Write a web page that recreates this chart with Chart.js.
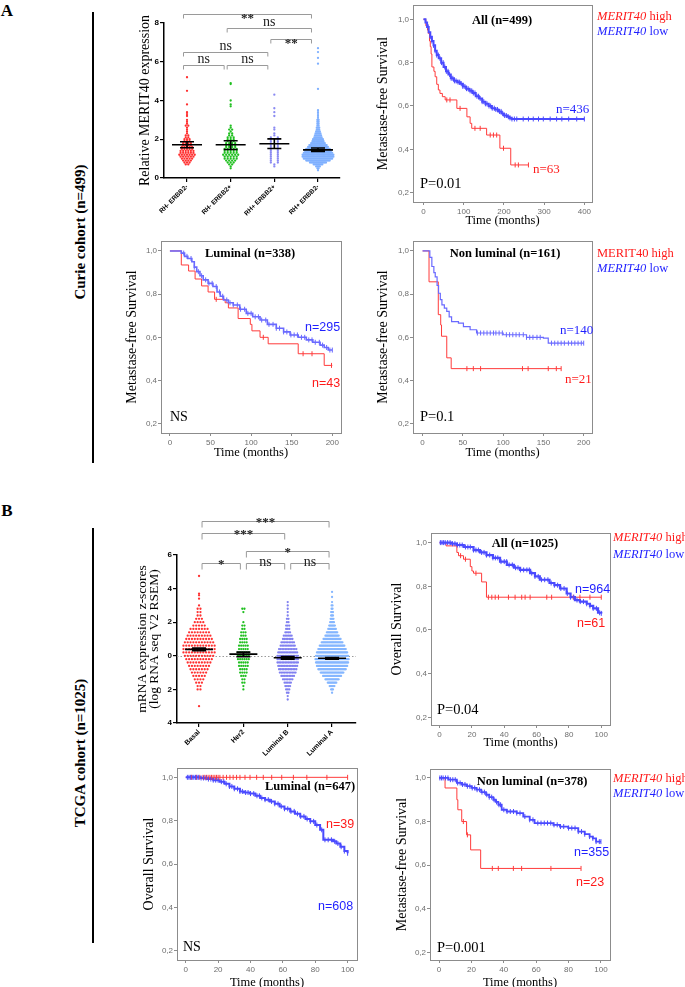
<!DOCTYPE html>
<html>
<head>
<meta charset="utf-8">
<script src="https://cdn.jsdelivr.net/npm/chart.js@4.4.1/dist/chart.umd.min.js"></script>
<style>
html,body{margin:0;padding:0;background:#fff;}
body{width:685px;height:987px;position:relative;overflow:hidden;}
canvas{position:absolute;}
.t{position:absolute;white-space:nowrap;line-height:1;font-family:"Liberation Serif","Times New Roman",serif;color:#000;}
.c{transform:translate(-50%,-50%);}
.l{transform:translate(0,-50%);}
.v{transform:translate(-50%,-50%) rotate(-90deg);}
.vline{position:absolute;background:#000;width:2.5px;}
</style>
</head>
<body>
<script>
/* ================= DATA ================= */
// ---- Panel A, Curie cohort: relative MERIT40 expression (histogram rows)
const curieCategories = ['RH- ERBB2-', 'RH- ERBB2+', 'RH+ ERBB2+', 'RH+ ERBB2-'];
const curieYTicks = [0, 2, 4, 6, 8];
const curieBinStart = 0.4;
const curieBinStep = 0.1;
const curieCountsRnEn = [0,0,0,2,3,4,5,6,7,6,6,5,5,4,4,3,3,2,2,1,1,1,1,2,1,1,1];
const curieCountsRnEp = [0,1,1,2,3,4,5,5,6,5,5,5,4,4,4,3,3,3,2,2,1,2,1,1,0,0,0];
const curieCountsRpEp = [0,0,1,1,2,2,2,2,2,2,2,2,2,2,2,2,2,2,1,1,0,1,1,0,0,0,0];
const curieCountsRpEn = [1,2,4,8,14,20,24,26,26,24,22,20,17,15,12,10,9,7,6,5,4,3,3,2,2,2,2];
const curieHighRnEn = [3.2,3.3,3.4,3.8,4.5,5.2];
const curieHighRnEp = [3.7,3.8,4.0,4.85,4.9];
const curieHighRpEp = [3.2,3.4,3.6,4.3];
const curieHighRpEn = [3.1,3.2,3.3,3.4,3.5,4.6,5.9,6.2,6.5,6.7];
const curieMeans = [1.72, 1.72, 1.77, 1.45];
const curieSemLow = [1.56, 1.47, 1.52, 1.37];
const curieSemHigh = [1.87, 1.92, 2.02, 1.55];
const curieSig = [[0,3,'**'],[1,3,'ns'],[2,3,'**'],[0,2,'ns'],[0,1,'ns'],[1,2,'ns']];

// ---- Panel B, TCGA cohort: mRNA z-scores
const tcgaCategories = ['Basal', 'Her2', 'Luminal B', 'Luminal A'];
const tcgaYTicks = [-4, -2, 0, 2, 4, 6];
const tcgaBinStart = -2.2;
const tcgaBinStep = 0.2;
const tcgaCountsBasal = [0,2,2,3,4,5,6,7,8,9,10,11,12,12,12,11,10,9,8,7,5,4,3,2,2,2,1];
const tcgaCountsHer2  = [0,1,1,2,2,3,4,4,5,5,6,6,6,5,5,4,4,3,3,2,2,1,0,0,1,2,0];
const tcgaCountsLumB  = [2,3,4,5,7,9,11,12,13,14,14,14,13,12,10,9,7,6,4,3,3,2,2,1,1,1,1];
const tcgaCountsLumA  = [1,3,6,10,15,20,25,30,33,35,36,35,33,30,27,23,19,15,12,9,7,5,4,3,3,2,2];
const tcgaExtraBasal = [-3.0, 3.4, 3.6, 3.7, 4.75];
const tcgaExtraHer2 = [];
const tcgaExtraLumB = [-2.6, -2.4, 3.2];
const tcgaExtraLumA = [3.2, 3.5, 3.8];
const tcgaMeans = [0.38, 0.10, -0.12, -0.15];
const tcgaSemLow = [0.30, -0.05, -0.20, -0.20];
const tcgaSemHigh = [0.46, 0.22, -0.04, -0.10];
const tcgaSig = [[0,3,'***'],[0,2,'***'],[1,3,'*'],[0,1,'*'],[1,2,'ns'],[2,3,'ns']];

// ---- Kaplan-Meier curves: [time (months), survival]
const survTicks = [0.2, 0.4, 0.6, 0.8, 1.0];
const timeTicksCurie400 = [0, 100, 200, 300, 400];
const timeTicksCurie200 = [0, 50, 100, 150, 200];
const timeTicksTcga = [0, 20, 40, 60, 80, 100];

const curieAllLow = [[0,1],[5,0.985],[9,0.965],[13,0.94],[17,0.92],[21,0.9],[25,0.88],[29,0.855],[33,0.835],[38,0.82],[44,0.8],[50,0.78],[56,0.76],[62,0.745],[68,0.728],[76,0.716],[84,0.71],[91,0.703],[98,0.69],[106,0.68],[114,0.67],[122,0.66],[130,0.645],[138,0.635],[146,0.62],[154,0.61],[162,0.6],[170,0.59],[178,0.584],[186,0.575],[194,0.565],[200,0.556],[208,0.55],[214,0.545],[219,0.54],[400,0.54]];
const curieAllLowCens = [12,17,21,25,29,33,37,41,45,49,53,57,61,65,69,73,77,81,86,90,94,98,103,107,111,116,120,124,128,133,137,141,146,150,154,158,163,167,171,176,180,184,189,193,197,202,206,211,215,220,226,232,248,261,273,286,298,315,331,344,361,381,400];
const curieAllHigh = [[0,1],[4,1],[6,0.97],[10,0.95],[12,0.935],[15,0.9],[17,0.874],[19,0.84],[21,0.78],[26,0.76],[29,0.735],[33,0.7],[37,0.674],[41,0.658],[47,0.643],[54,0.628],[83,0.589],[108,0.55],[116,0.52],[120,0.497],[157,0.466],[190,0.405],[217,0.328],[261,0.328]];
const curieAllHighCens = [58,66,91,128,141,166,174,182,199,228,236,261];

const curieLumLow = [[0,1],[12,1],[14,0.99],[18,0.975],[22,0.965],[27,0.95],[30,0.925],[33,0.904],[37,0.885],[41,0.866],[47,0.85],[53,0.835],[58,0.81],[62,0.79],[66,0.773],[72,0.76],[78,0.75],[86,0.73],[94,0.711],[102,0.695],[111,0.68],[120,0.66],[131,0.642],[140,0.625],[148,0.611],[158,0.6],[168,0.588],[176,0.577],[185,0.564],[190,0.553],[195,0.541],[200,0.541]];
const curieLumLowCens = [17,21,26,30,35,39,44,48,52,57,61,65,70,74,78,83,87,92,96,100,105,109,113,118,122,127,131,135,140,144,149,153,157,162,166,171,175,179,184,188,193,197,200];
const curieLumHigh = [[0,1],[14,0.935],[23,0.907],[31,0.87],[39,0.838],[47,0.81],[55,0.776],[68,0.76],[72,0.736],[84,0.687],[99,0.66],[101,0.63],[111,0.6],[121,0.57],[158,0.524],[190,0.47],[200,0.47]];
const curieLumHighCens = [57,115,164,175,199];

const curieNonLumLow = [[0,1],[7.4,1],[9,0.97],[11.5,0.928],[14,0.9],[15.7,0.88],[18,0.84],[19.8,0.804],[22,0.775],[24,0.75],[27,0.735],[30,0.72],[33,0.695],[36,0.673],[44.5,0.666],[50.7,0.65],[59,0.635],[67,0.62],[100,0.612],[129,0.6],[150,0.596],[156,0.573],[200,0.573]];
const curieNonLumLowCens = [68,72,76,80,84,88,91,95,99,104,108,112,116,120,125,129,133,137,142,146,160,164,168,172,176,181,185,189,193,197,200];
const curieNonLumHigh = [[0,1],[8,0.857],[19.5,0.705],[22.5,0.657],[23.5,0.605],[30,0.505],[35.5,0.455],[172,0.455]];
const curieNonLumHighCens = [55,63,72,124,131,156,166,172];

const tcgaAllLow = [[0,1],[4.5,1],[7,0.995],[10.7,0.989],[15,0.98],[21,0.966],[25,0.955],[29,0.943],[33,0.93],[37.4,0.913],[41.6,0.898],[46,0.885],[49.8,0.875],[56,0.86],[59,0.845],[62,0.83],[68,0.815],[71,0.805],[74.5,0.79],[78.6,0.767],[81,0.75],[83.7,0.737],[86.8,0.73],[91,0.72],[93,0.71],[95,0.699],[98,0.679],[100,0.676]];
const tcgaAllLowCens = [0.5,1.5,2.5,3.5,5,6.5,8,9.5,11,12.5,14,16,17.5,19,21,22.5,24,26,27.5,29,31,33,34.5,36,38,40,41.5,43,45,47,48.5,50,52,54,55.5,57,59,61,63,65,67,69,71,73,75,77,79,81,83,85,87,89,91,93,95,97,99,100];
const tcgaAllHigh = [[0,1],[4,0.985],[10.7,0.955],[11.7,0.94],[14.8,0.924],[19,0.89],[20,0.87],[21,0.86],[26,0.82],[29,0.75],[100,0.75]];
const tcgaAllHighCens = [13,16,22.5,30.2,32.3,34.4,36.4,42.6,46.7,50.8,52.9,56,66.3,69.3,82.7,86.8,93,100];

const tcgaLumLow = [[0,1],[6.6,1],[9,0.997],[12.8,0.992],[17,0.987],[21,0.98],[24,0.97],[27,0.958],[30,0.947],[33.5,0.935],[36,0.93],[39.7,0.925],[43,0.915],[46,0.905],[49,0.897],[52,0.889],[55,0.878],[58,0.866],[61,0.855],[64.5,0.843],[67.5,0.832],[70.7,0.82],[74,0.808],[76.9,0.797],[80,0.78],[83,0.758],[85,0.712],[91,0.705],[93,0.695],[95.5,0.68],[98,0.66],[100,0.65]];
const tcgaLumLowCens = [1,2,3,4,5,6,7,8,9.5,11,12.5,14,15.5,17,18.5,20,22,23.5,25,27,28.5,30,32,33.5,35,37,38.5,40,42,44,45.5,47,49,51,53,55,57,59,61,63,65,67,69,71,73,75,77,79,81,84,86,88,90,92,94,96,98,100];
const tcgaLumHigh = [[0,1],[100,1]];
const tcgaLumHighCens = [3.5,6.6,8.7,10.7,11.8,12.8,13.8,14.9,15.9,16.9,18,19,20,21.1,23.1,25.2,27.3,29.3,31.4,33.5,36.6,39.7,43.8,47.9,53.1,59.3,66.5,74.8,87.2,100];

const tcgaNonLumLow = [[0,1],[5.8,0.992],[11,0.977],[14,0.97],[17,0.962],[20,0.954],[23,0.946],[26,0.935],[29,0.923],[31,0.912],[33.5,0.9],[35,0.89],[36.6,0.877],[38.7,0.854],[41.8,0.846],[48,0.839],[52,0.823],[56,0.808],[59,0.793],[70.6,0.785],[74.7,0.777],[79.8,0.77],[86,0.754],[90,0.742],[93,0.731],[95,0.723],[97,0.708],[100,0.708]];
const tcgaNonLumLowCens = [0.5,1.5,2.5,4,5.5,7,8.5,10,11.5,13,14.5,16,17.5,19,20.5,22,23.5,25,26.5,28,29.5,31,32.5,34,35.5,37,38,40,42,44,46,48,50,53,56,58,61,63,65,67,69,71,73,75,77,80,82,84,86,88,90,93,95,97,99,100];
const tcgaNonLumHigh = [[0,1],[3.7,0.954],[11,0.9],[11.6,0.854],[14,0.8],[17,0.739],[19.5,0.67],[25.7,0.585],[87.6,0.585]];
const tcgaNonLumHighCens = [15,17.5,32.9,36.6,45.9,51,69.1,87.7];

/* ================= STYLE / LAYOUT ================= */
const SERIF = '"Liberation Serif","Times New Roman",serif';
const SANS = '"Liberation Sans",Arial,sans-serif';
const KM_RED = '#ff3b3b', KM_BLUE = '#4a4aff';

function stepAt(curve, t) {
  let s = curve[0][1];
  for (const p of curve) { if (p[0] <= t) s = p[1]; else break; }
  return s;
}
function swarm(counts, start, step, extra, idx, spacing) {
  const pts = [];
  counts.forEach((n, k) => {
    const y = Math.round((start + k * step) * 1000) / 1000;
    for (let m = 0; m < n; m++) pts.push({ x: idx + (m - (n - 1) / 2) * spacing, y: y });
  });
  extra.forEach(y => pts.push({ x: idx, y: y }));
  return pts;
}
function addCanvas(left, top, w, h) {
  const cv = document.createElement('canvas');
  cv.width = w; cv.height = h;
  Object.assign(cv.style, { left: left + 'px', top: top + 'px', width: w + 'px', height: h + 'px' });
  document.body.appendChild(cv);
  return cv;
}
const boxPlugin = {
  id: 'box',
  afterDraw(ch) {
    const a = ch.chartArea, c = ch.ctx;
    c.save(); c.strokeStyle = '#8c8c8c'; c.lineWidth = 1;
    c.strokeRect(Math.round(a.left) + 0.5, Math.round(a.top) + 0.5, Math.round(a.right - a.left), Math.round(a.bottom - a.top));
    c.restore();
  }
};

function makeKM(c) {
  const padL = 50, padT = 12, padR = 14, padB = 36;
  const b = c.box;
  const left = b.l - padL, top = b.t - padT;
  const W = Math.round(b.r - b.l) + padL + padR, H = Math.round(b.b - b.t) + padT + padB;
  const cv = addCanvas(left, top, W, H);
  const yFont = 14, xFont = 12.5;
  const ds = [];
  c.series.forEach(s => {
    ds.push({ data: s.curve.map(p => ({ x: p[0], y: p[1] })), showLine: true, stepped: true,
      borderColor: s.color, borderWidth: s.width, pointRadius: 0, fill: false, order: 2 });
    ds.push({ data: s.censor.map(t => ({ x: t, y: stepAt(s.curve, t) })), showLine: false,
      pointStyle: 'line', rotation: 90, pointRadius: 2.5, borderColor: s.color, borderWidth: 1,
      backgroundColor: s.color, order: 1 });
  });
  new Chart(cv, {
    type: 'scatter',
    data: { datasets: ds },
    options: {
      responsive: false, animation: false, events: [],
      layout: { padding: { left: 0, top: padT, right: padR, bottom: 0 } },
      plugins: { legend: { display: false }, tooltip: { enabled: false } },
      scales: {
        x: {
          type: 'linear', min: c.xMin, max: c.xMax,
          afterBuildTicks: s => { s.ticks = c.xTicks.map(v => ({ value: v })); },
          afterFit: s => { s.height = padB; },
          ticks: { font: { family: SANS, size: 8 }, color: '#6e6e6e', padding: 2, maxRotation: 0, autoSkip: false, callback: v => String(v) },
          grid: { drawOnChartArea: false, drawTicks: true, tickLength: 3, color: '#8c8c8c' },
          border: { display: false },
          title: { display: true, text: 'Time (months)', color: '#000', font: { family: SERIF, size: xFont },
            padding: { top: 0, bottom: H - (c.xTitleY - top) - xFont * 0.6 } }
        },
        y: {
          type: 'linear', min: c.yMin, max: c.yMax,
          afterBuildTicks: s => { s.ticks = survTicks.map(v => ({ value: v })); },
          afterFit: s => { s.width = padL; },
          ticks: { font: { family: SANS, size: 8 }, color: '#6e6e6e', padding: 1, autoSkip: false, callback: v => v.toFixed(1).replace('.', ',') },
          grid: { drawOnChartArea: false, drawTicks: true, tickLength: 3, color: '#8c8c8c' },
          border: { display: false },
          title: { display: true, text: c.yTitle, color: '#000', font: { family: SERIF, size: yFont },
            padding: { top: (c.yTitleX - left) - yFont * 0.6, bottom: 0 } }
        }
      }
    },
    plugins: [boxPlugin]
  });
}

function makeDot(c) {
  const a = c.area, k = c.canvas;
  const padL = a.l - k.l, padT = a.t - k.t, padR = k.l + k.w - a.r, padB = k.t + k.h - a.b;
  const cv = addCanvas(k.l, k.t, k.w, k.h);
  const pxPerIdx = (a.r - a.l) / (c.xMax - c.xMin);
  const ds = c.groups.map((g, i) => {
    const maxN = Math.max.apply(null, g.counts);
    return { data: swarm(g.counts, c.binStart, c.binStep, g.extra, i, g.spread / (maxN * pxPerIdx)),
      backgroundColor: g.color, borderWidth: 0, pointRadius: c.r, showLine: false };
  });
  const dotPlugin = {
    id: 'dot',
    beforeDatasetsDraw(ch) {
      if (!c.zeroLine) return;
      const y = ch.scales.y, ctx = ch.ctx, yy = Math.round(y.getPixelForValue(0)) + 0.5;
      ctx.save(); ctx.strokeStyle = '#9a9a9a'; ctx.lineWidth = 1; ctx.setLineDash([1.5, 2]);
      ctx.beginPath(); ctx.moveTo(ch.chartArea.left, yy); ctx.lineTo(ch.chartArea.right, yy); ctx.stroke(); ctx.restore();
    },
    afterDatasetsDraw(ch) {
      const x = ch.scales.x, y = ch.scales.y, ctx = ch.ctx;
      ctx.save(); ctx.strokeStyle = '#000'; ctx.lineWidth = 1.6;
      c.means.forEach((m, i) => {
        const cx = x.getPixelForValue(i);
        const ym = y.getPixelForValue(m), yl = y.getPixelForValue(c.semLow[i]), yh = y.getPixelForValue(c.semHigh[i]);
        ctx.beginPath();
        ctx.moveTo(cx - c.meanHalf, ym); ctx.lineTo(cx + c.meanHalf, ym);
        ctx.moveTo(cx, yl); ctx.lineTo(cx, yh);
        ctx.moveTo(cx - c.capHalf, yl); ctx.lineTo(cx + c.capHalf, yl);
        ctx.moveTo(cx - c.capHalf, yh); ctx.lineTo(cx + c.capHalf, yh);
        ctx.stroke();
      });
      ctx.restore();
    },
    afterDraw(ch) {
      const x = ch.scales.x, y = ch.scales.y, ctx = ch.ctx;
      ctx.save();
      c.sig.forEach((s, n) => {
        const x1 = x.getPixelForValue(s[0]) + c.brInset + c.brShift;
        const x2 = x.getPixelForValue(s[1]) - c.brInset + c.brShift;
        const yy = Math.round(y.getPixelForValue(c.sigLevel[n])) + 0.5;
        ctx.strokeStyle = '#9a9a9a'; ctx.lineWidth = 1;
        ctx.beginPath(); ctx.moveTo(x1, yy + c.brLeg); ctx.lineTo(x1, yy); ctx.lineTo(x2, yy); ctx.lineTo(x2, yy + c.brLeg); ctx.stroke();
        const star = s[2].indexOf('*') >= 0;
        ctx.fillStyle = '#222';
        ctx.font = star ? ('bold 13px ' + SERIF) : ('14px ' + SERIF);
        ctx.textAlign = 'center'; ctx.textBaseline = 'alphabetic';
        ctx.fillText(s[2], (x1 + x2) / 2, yy + (star ? c.starDy : c.nsDy));
      });
      ctx.restore();
    }
  };
  new Chart(cv, {
    type: 'scatter',
    data: { datasets: ds },
    options: {
      responsive: false, animation: false, events: [],
      layout: { padding: { left: 0, top: padT, right: padR, bottom: 0 } },
      plugins: { legend: { display: false }, tooltip: { enabled: false } },
      scales: {
        x: {
          type: 'linear', min: c.xMin, max: c.xMax,
          afterBuildTicks: s => { s.ticks = c.cats.map((_, i) => ({ value: i })); },
          afterFit: s => { s.height = padB; },
          ticks: { font: { family: SANS, size: c.xLabelSize, weight: 'bold' }, color: '#000', padding: 1,
            minRotation: 45, maxRotation: 45, autoSkip: false, callback: v => c.cats[v] },
          grid: { drawOnChartArea: false, drawTicks: true, tickLength: 4, color: '#000', lineWidth: 1.2 },
          border: { display: true, color: '#000', width: 1.5 }
        },
        y: {
          type: 'linear', min: c.yMin, max: c.yMax,
          afterBuildTicks: s => { s.ticks = c.yTicks.map(v => ({ value: v })); },
          afterFit: s => { s.width = padL; },
          ticks: { font: { family: SANS, size: 8, weight: 'bold' }, color: '#000', padding: 1, autoSkip: false,
            callback: v => String(Math.abs(v)) },
          grid: { drawOnChartArea: false, drawTicks: true, tickLength: 4, color: '#000', lineWidth: 1.2 },
          border: { display: true, color: '#000', width: 1.5 },
          title: { display: true, text: c.yTitle, color: '#000',
            font: { family: SERIF, size: c.titleSize, lineHeight: c.titleLH },
            padding: { top: c.yTitlePad, bottom: 0 } }
        }
      }
    },
    plugins: [dotPlugin]
  });
}

/* ---- Panel A dot plot */
makeDot({
  canvas: { l: 100, t: 0, w: 250, h: 222 }, area: { l: 164, t: 23, r: 340, b: 178 },
  xMin: -0.527, xMax: 3.504, yMin: 0, yMax: 8, yTicks: curieYTicks, cats: curieCategories, xLabelSize: 6.5,
  binStart: curieBinStart, binStep: curieBinStep, r: 1.15,
  groups: [
    { counts: curieCountsRnEn, extra: curieHighRnEn, color: '#ff3030', spread: 18 },
    { counts: curieCountsRnEp, extra: curieHighRnEp, color: '#1fbf1f', spread: 18 },
    { counts: curieCountsRpEp, extra: curieHighRpEp, color: '#8a8af2', spread: 14 },
    { counts: curieCountsRpEn, extra: curieHighRpEn, color: '#7fb0ff', spread: 32 }
  ],
  means: curieMeans, semLow: curieSemLow, semHigh: curieSemHigh, meanHalf: 15, capHalf: 7,
  sig: curieSig, sigLevel: [8.45, 7.73, 7.16, 6.5, 5.82, 5.82], brInset: 1.5, brShift: -5, brLeg: 4, starDy: 7, nsDy: -3,
  yTitle: 'Relative MERIT40 expression', yTitlePad: 36.6, titleSize: 14, titleLH: 1.2, zeroLine: false
});

/* ---- Panel B dot plot */
makeDot({
  canvas: { l: 100, t: 495, w: 265, h: 272 }, area: { l: 177, t: 555, r: 356, b: 723 },
  xMin: -0.497, xMax: 3.54, yMin: -4, yMax: 6, yTicks: tcgaYTicks, cats: tcgaCategories, xLabelSize: 7,
  binStart: tcgaBinStart, binStep: tcgaBinStep, r: 1.15,
  groups: [
    { counts: tcgaCountsBasal, extra: tcgaExtraBasal, color: '#ff3030', spread: 34 },
    { counts: tcgaCountsHer2, extra: tcgaExtraHer2, color: '#1fbf1f', spread: 13 },
    { counts: tcgaCountsLumB, extra: tcgaExtraLumB, color: '#8080f0', spread: 22 },
    { counts: tcgaCountsLumA, extra: tcgaExtraLumA, color: '#85b6ff', spread: 34 }
  ],
  means: tcgaMeans, semLow: tcgaSemLow, semHigh: tcgaSemHigh, meanHalf: 14, capHalf: 7,
  sig: tcgaSig, sigLevel: [8.04, 7.32, 6.25, 5.54, 5.54, 5.54], brInset: 3, brShift: 0, brLeg: 6, starDy: 4, nsDy: 2,
  yTitle: ['mRNA expression z-scores', '(log RNA seq V2 RSEM)'], yTitlePad: 35.5, titleSize: 13.5, titleLH: 0.96, zeroLine: true
});

/* ---- Kaplan-Meier panels */
makeKM({ box: { l: 413, t: 5, r: 592, b: 202 }, xMin: -26, xMax: 419, yMin: 0.157, yMax: 1.066, xTicks: timeTicksCurie400,
  yTitle: 'Metastase-free Survival', yTitleX: 383, xTitleY: 221,
  series: [{ curve: curieAllLow, censor: curieAllLowCens, color: KM_BLUE, width: 2 },
           { curve: curieAllHigh, censor: curieAllHighCens, color: KM_RED, width: 1 }] });
makeKM({ box: { l: 161, t: 241, r: 341, b: 433 }, xMin: -11, xMax: 210.7, yMin: 0.157, yMax: 1.046, xTicks: timeTicksCurie200,
  yTitle: 'Metastase-free Survival', yTitleX: 132, xTitleY: 453,
  series: [{ curve: curieLumLow, censor: curieLumLowCens, color: '#6a6aff', width: 1.6 },
           { curve: curieLumHigh, censor: curieLumHighCens, color: KM_RED, width: 1 }] });
makeKM({ box: { l: 413, t: 241, r: 592, b: 433 }, xMin: -11.9, xMax: 210.3, yMin: 0.157, yMax: 1.046, xTicks: timeTicksCurie200,
  yTitle: 'Metastase-free Survival', yTitleX: 383, xTitleY: 453,
  series: [{ curve: curieNonLumLow, censor: curieNonLumLowCens, color: '#6a6aff', width: 1.2 },
           { curve: curieNonLumHigh, censor: curieNonLumHighCens, color: KM_RED, width: 1 }] });
makeKM({ box: { l: 431, t: 533, r: 610, b: 725 }, xMin: -5.3, xMax: 105.4, yMin: 0.165, yMax: 1.044, xTicks: timeTicksTcga,
  yTitle: 'Overall Survival', yTitleX: 397, xTitleY: 743,
  series: [{ curve: tcgaAllLow, censor: tcgaAllLowCens, color: KM_BLUE, width: 2.2 },
           { curve: tcgaAllHigh, censor: tcgaAllHighCens, color: KM_RED, width: 1 }] });
makeKM({ box: { l: 177, t: 768, r: 357, b: 960 }, xMin: -5.4, xMax: 105.8, yMin: 0.158, yMax: 1.043, xTicks: timeTicksTcga,
  yTitle: 'Overall Survival', yTitleX: 149, xTitleY: 983,
  series: [{ curve: tcgaLumLow, censor: tcgaLumLowCens, color: KM_BLUE, width: 2 },
           { curve: tcgaLumHigh, censor: tcgaLumHighCens, color: KM_RED, width: 1 }] });
makeKM({ box: { l: 430, t: 769, r: 610, b: 960 }, xMin: -5.6, xMax: 105.6, yMin: 0.165, yMax: 1.041, xTicks: timeTicksTcga,
  yTitle: 'Metastase-free Survival', yTitleX: 402, xTitleY: 983,
  series: [{ curve: tcgaNonLumLow, censor: tcgaNonLumLowCens, color: KM_BLUE, width: 1.8 },
           { curve: tcgaNonLumHigh, censor: tcgaNonLumHighCens, color: KM_RED, width: 1 }] });

/* ---- text overlays */
function T(x, y, html, cls, css) {
  const d = document.createElement('div');
  d.className = 't ' + cls; d.innerHTML = html;
  d.style.left = x + 'px'; d.style.top = y + 'px';
  if (css) d.style.cssText += css;
  document.body.appendChild(d);
}
const R = 'color:#ff1a1a;', B = 'color:#1f1fff;';
const SS = 'font-family:"Liberation Sans",Arial,sans-serif;font-size:12.5px;';
const legHigh = '<i>MERIT40</i> high', legLow = '<i>MERIT40</i> low';

T(7, 10, 'A', 'c', 'font-weight:bold;font-size:17px;');
T(7, 510, 'B', 'c', 'font-weight:bold;font-size:17px;');
T(80, 232, 'Curie cohort (n=499)', 'v', 'font-weight:bold;font-size:15px;');
T(80, 753, 'TCGA cohort (n=1025)', 'v', 'font-weight:bold;font-size:15px;');

// A2
T(502, 20, 'All (n=499)', 'c', 'font-weight:bold;font-size:12.5px;');
T(597, 16, legHigh, 'l', R + 'font-size:12.5px;');
T(597, 31, legLow, 'l', B + 'font-size:12.5px;');
T(556, 108, 'n=436', 'l', B + 'font-size:13px;');
T(533, 168, 'n=63', 'l', R + 'font-size:13px;');
T(420, 183, 'P=0.01', 'l', 'font-size:14.5px;');
// A3
T(250, 253, 'Luminal (n=338)', 'c', 'font-weight:bold;font-size:12.5px;');
T(305, 327, 'n=295', 'l', B + SS);
T(312, 383, 'n=43', 'l', R + SS);
T(170, 417, 'NS', 'l', 'font-size:14px;');
// A4
T(505, 253, 'Non luminal (n=161)', 'c', 'font-weight:bold;font-size:12.5px;');
T(597, 253, 'MERIT40 high', 'l', R + 'font-size:12.5px;');
T(597, 268, legLow, 'l', B + 'font-size:12.5px;');
T(560, 329, 'n=140', 'l', B + 'font-size:13px;');
T(565, 378, 'n=21', 'l', R + 'font-size:13px;');
T(420, 416, 'P=0.1', 'l', 'font-size:14.5px;');
// B2
T(525, 543, 'All (n=1025)', 'c', 'font-weight:bold;font-size:12.5px;');
T(613, 537, legHigh, 'l', R + 'font-size:12.5px;');
T(613, 554, legLow, 'l', B + 'font-size:12.5px;');
T(575, 589, 'n=964', 'l', B + SS);
T(577, 623, 'n=61', 'l', R + SS);
T(437, 709, 'P=0.04', 'l', 'font-size:14.5px;');
// B3
T(310, 786, 'Luminal (n=647)', 'c', 'font-weight:bold;font-size:12.5px;');
T(326, 824, 'n=39', 'l', R + SS);
T(318, 906, 'n=608', 'l', B + SS);
T(183, 947, 'NS', 'l', 'font-size:14px;');
// B4
T(532, 781, 'Non luminal (n=378)', 'c', 'font-weight:bold;font-size:12.5px;');
T(613, 778, legHigh, 'l', R + 'font-size:12.5px;');
T(613, 793, legLow, 'l', B + 'font-size:12.5px;');
T(574, 852, 'n=355', 'l', B + SS);
T(576, 882, 'n=23', 'l', R + SS);
T(437, 947, 'P=0.001', 'l', 'font-size:14.5px;');

// cohort separators
[[12, 463], [528, 943]].forEach(r => {
  const d = document.createElement('div'); d.className = 'vline';
  d.style.left = '91.5px'; d.style.top = r[0] + 'px'; d.style.height = (r[1] - r[0]) + 'px';
  document.body.appendChild(d);
});
</script>
</body>
</html>
